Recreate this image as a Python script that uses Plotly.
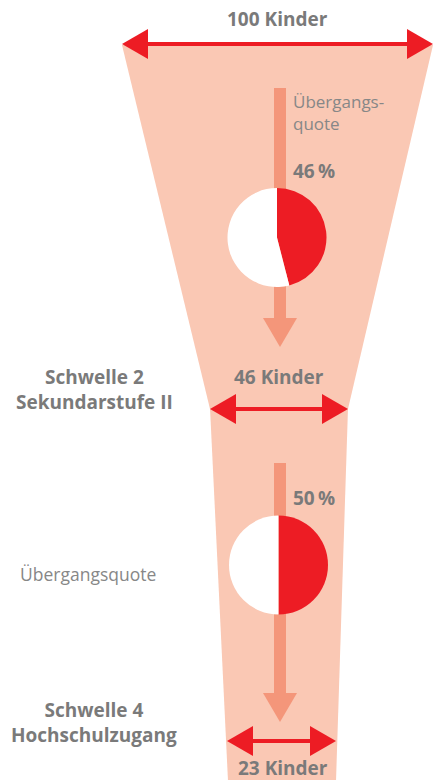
import plotly.graph_objects as go

# ---- data ----
stage_labels = ["100 Kinder", "46 Kinder", "23 Kinder"]
children = [100, 46, 23]
quote_values = [46, 50]
quote_labels = ["46\u2009%", "50\u2009%"]
threshold_labels = ["Schwelle 2<br>Sekundarstufe II", "Schwelle 4<br>Hochschulzugang"]

W, H = 433, 780
FUNNEL = "#FAC8B4"
RED = "#ED1C24"
SALMON = "#F4967A"
GRAY = "#7A7A7A"
LGRAY = "#878787"

fig = go.Figure()

# invisible trace to establish axes
fig.add_trace(go.Scatter(x=[0, W], y=[0, H], mode="markers", marker=dict(opacity=0), hoverinfo="skip", showlegend=False))

shapes = []
def S(**kw):
    kw.setdefault("xref", "x")
    kw.setdefault("yref", "y")
    kw.setdefault("layer", "below")
    shapes.append(kw)

# funnel sections
S(type="path", path="M122,45 L433,45 L348,409 L210,409 Z", fillcolor=FUNNEL, line=dict(width=0))
S(type="path", path="M210,408 L348,408 L336,781 L228,781 Z", fillcolor=FUNNEL, line=dict(width=0))

# double arrows (width arrows)
def double_arrow(x0, x1, y, head=26, half=15):
    S(type="line", x0=x0 + head - 2, x1=x1 - head + 2, y0=y, y1=y, line=dict(color=RED, width=4))
    S(type="path", path=f"M{x0},{y} L{x0+head},{y-half} L{x0+head},{y+half} Z", fillcolor=RED, line=dict(width=0))
    S(type="path", path=f"M{x1},{y} L{x1-head},{y-half} L{x1-head},{y+half} Z", fillcolor=RED, line=dict(width=0))

double_arrow(122, 433, 44)
double_arrow(210, 348, 409)
double_arrow(227, 336, 741)

# vertical transition arrows
def down_arrow(x, y0, yb, yt, half=17, w=12):
    S(type="rect", x0=x - w / 2, x1=x + w / 2, y0=y0, y1=yb + 1, fillcolor=SALMON, line=dict(width=0))
    S(type="path", path=f"M{x-half},{yb} L{x+half},{yb} L{x},{yt} Z", fillcolor=SALMON, line=dict(width=0))

down_arrow(280, 88, 318, 347)
down_arrow(280, 463, 693, 722)

# pies
pie_centers = [(277, 237.5), (278.5, 565)]
R = 49.5
for (cx, cy), q in zip(pie_centers, quote_values):
    fig.add_trace(go.Pie(
        values=[q, 100 - q],
        marker=dict(colors=[RED, "#FFFFFF"], line=dict(width=0)),
        sort=False, direction="clockwise", rotation=0,
        textinfo="none", hoverinfo="skip", showlegend=False,
        domain=dict(x=[(cx - R) / W, (cx + R) / W], y=[1 - (cy + R) / H, 1 - (cy - R) / H]),
    ))

annotations = []
def txt(x, y, s, size, color, bold=False, xanchor="center", align="center"):
    if bold:
        s = f"<b>{s}</b>"
    annotations.append(dict(x=x, y=y, xref="x", yref="y", text=s, showarrow=False,
                            font=dict(family="Open Sans", size=size, color=color),
                            xanchor=xanchor, yanchor="middle", align=align))

txt(277, 19, stage_labels[0], 19, GRAY, True)
txt(279, 377, stage_labels[1], 19, GRAY, True)
txt(283, 768, stage_labels[2], 19, GRAY, True)

txt(94, 389, threshold_labels[0], 19, GRAY, True)
txt(94, 722, threshold_labels[1], 19, GRAY, True)

txt(291, 112, "Übergangs-<br>quote", 17, LGRAY, False, xanchor="left", align="left")
txt(291, 171, quote_labels[0], 19, GRAY, True, xanchor="left")
txt(291, 498, quote_labels[1], 19, GRAY, True, xanchor="left")
txt(18, 574, "Übergangsquote", 17.5, LGRAY, False, xanchor="left", align="left")

fig.update_layout(
    width=W, height=H,
    margin=dict(l=0, r=0, t=0, b=0),
    paper_bgcolor="white", plot_bgcolor="white",
    xaxis=dict(range=[0, W], visible=False, fixedrange=True),
    yaxis=dict(range=[H, 0], visible=False, fixedrange=True),
    shapes=shapes, annotations=annotations,
    showlegend=False,
)

fig.write_html("out.html", config=dict(displayModeBar=False),
               post_script="document.body.style.margin='0';document.body.style.padding='0';document.body.style.overflow='hidden';")
